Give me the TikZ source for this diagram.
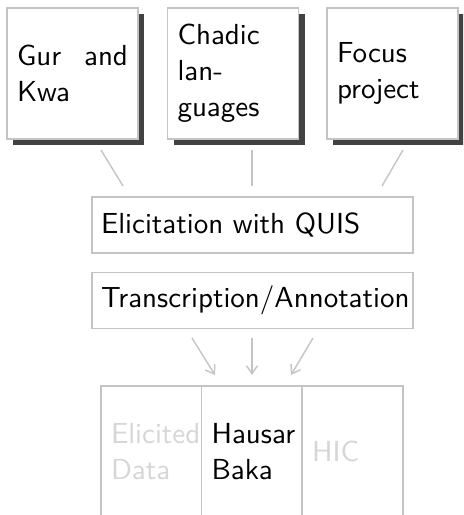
\documentclass[tikz,border=0pt]{standalone}
\usetikzlibrary{arrows.meta,shadows}
\definecolor{edgegray}{RGB}{196,196,196}
\definecolor{shadowgray}{RGB}{66,66,66}
\definecolor{fadedtext}{RGB}{214,214,214}
% one drawing unit; the text is set at 10pt = 29 units
\newlength\px
\setlength\px{0.3448pt}
\begin{document}
\begin{tikzpicture}[x=\px,y=\px,
  font=\sffamily\fontsize{10}{12.41}\selectfont,
  box/.style={draw=edgegray, line width=1.4\px, fill=white, inner ysep=0pt},
  source/.style={box, general shadow={fill=shadowgray, shadow xshift=6\px, shadow yshift=-6\px},
    minimum width=131\px, minimum height=131\px, text width=111\px, inner xsep=10\px, align=left},
  stage/.style={box, minimum width=321\px, minimum height=56\px, text width=303\px, inner xsep=9\px, align=left},
  column/.style={box, minimum width=101\px, minimum height=131\px, text width=81\px, inner xsep=10\px, align=left},
  faded/.style={text=fadedtext},
  link/.style={draw=edgegray, line width=1.4\px},
  feed/.style={link, -{Straight Barb[length=2.8pt,width=3.8pt,line width=0.48pt]}},
]
\clip (0,0) rectangle (463,-515);

% data sources
\node[source] (gur)    at (72.5,-73.5)  {Gur\hfill and\\Kwa};
\node[source] (chadic) at (233,-73.5)   {Chadic\\lan-\\guages};
\node[source] (focus)  at (392.5,-73.5) {Focus\\project};

% processing stages
\node[stage] (elic)  at (252.5,-225)   {Elicitation with QUIS};
\node[stage] (trans) at (252.5,-300.5) {Transcription/Annotation};

% resulting corpora
\node[column, faded] (elicited) at (151.5,-451.5) {Elicited\\Data};
\node[column]        (hausa)    at (252,-451.5)   {Hausar\\Baka};
\node[column, faded] (hic)      at (352.5,-451.5) {HIC};

% connector end points
\coordinate (gurFoot)    at (101,-150);
\coordinate (chadicFoot) at (252,-150);
\coordinate (focusFoot)  at (403,-150);
\coordinate (elicL) at (123,-186);
\coordinate (elicM) at (252,-186);
\coordinate (elicR) at (382,-186);
\coordinate (transL) at (192,-338);
\coordinate (transM) at (252,-338);
\coordinate (transR) at (313,-338);
\coordinate (colL) at (215,-375);
\coordinate (colM) at (252,-375);
\coordinate (colR) at (291,-375);

\draw[link] (gurFoot) -- (elicL);
\draw[link] (chadicFoot) -- (elicM);
\draw[link] (focusFoot) -- (elicR);

\draw[feed] (transL) -- (colL);
\draw[feed] (transM) -- (colM);
\draw[feed] (transR) -- (colR);
\end{tikzpicture}
\end{document}
